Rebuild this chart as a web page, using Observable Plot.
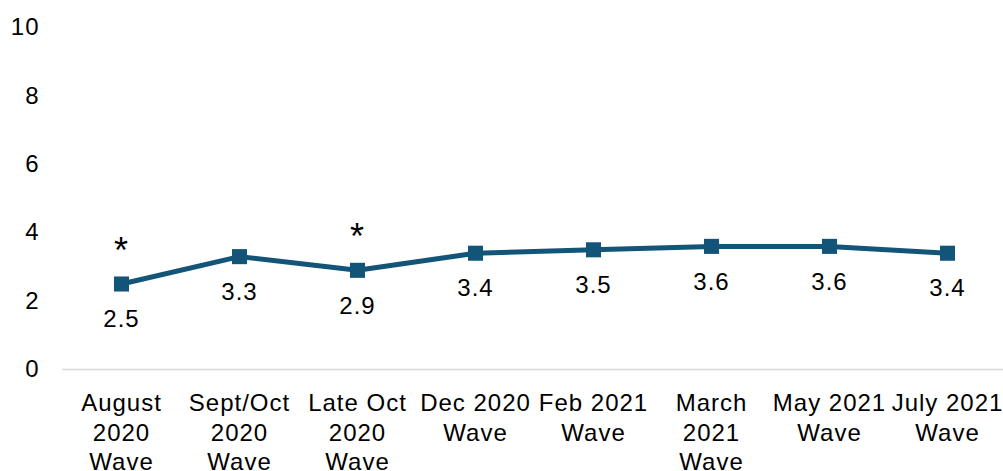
<!DOCTYPE html>
<html>
<head>
<meta charset="utf-8">
<script src="https://cdn.jsdelivr.net/npm/d3@7"></script>
<script src="https://cdn.jsdelivr.net/npm/@observablehq/plot@0.6"></script>
<style>
  html, body { margin: 0; padding: 0; background: #fff; overflow: hidden; }
  #chart svg { display: block; letter-spacing: 1px; }
</style>
</head>
<body>
<div id="chart"></div>
<script>
const waves = [
  "August\n2020\nWave",
  "Sept/Oct\n2020\nWave",
  "Late Oct\n2020\nWave",
  "Dec 2020\nWave",
  "Feb 2021\nWave",
  "March\n2021\nWave",
  "May 2021\nWave",
  "July 2021\nWave"
];
const values = [2.5, 3.3, 2.9, 3.4, 3.5, 3.6, 3.6, 3.4];
const flagged = ["August\n2020\nWave", "Late Oct\n2020\nWave"];
const yTicks = [0, 2, 4, 6, 8, 10];

const data = waves.map((w, i) => ({wave: w, value: values[i]}));
const starData = data.filter(d => flagged.includes(d.wave));

const color = "#135479";
const font = "'Liberation Sans', Arial, sans-serif";

const chart = Plot.plot({
  width: 1003,
  height: 471,
  marginTop: 27,
  marginBottom: 102,
  marginLeft: 62,
  marginRight: 0,
  style: {fontFamily: font, fontSize: "24px", color: "#000", background: "#fff"},
  x: {type: "point", domain: waves, range: [62, 1006], padding: 0.5, align: 0.5},
  y: {domain: [0, 10]},
  marks: [
    Plot.ruleY([0], {stroke: "#d9d9d9", strokeWidth: 1.5}),
    Plot.axisY({ticks: yTicks, tickSize: 0, tickPadding: 23, fontSize: 24, label: null}),
    Plot.axisX({tickSize: 0, tickPadding: 21, fontSize: 24, lineHeight: 1.23, label: null}),
    Plot.line(data, {x: "wave", y: "value", stroke: color, strokeWidth: 5}),
    Plot.dot(data, {x: "wave", y: "value", symbol: "square", r: 8.5, fill: color, stroke: "none"}),
    Plot.text(data, {x: "wave", y: "value", text: d => d.value.toFixed(1), dy: 35.5, fontSize: 24, fill: "#000"}),
    Plot.text(starData, {x: "wave", y: "value", text: () => "*", dy: -33, fontSize: 36, fill: "#000"})
  ]
});
document.getElementById("chart").appendChild(chart);
</script>
</body>
</html>
